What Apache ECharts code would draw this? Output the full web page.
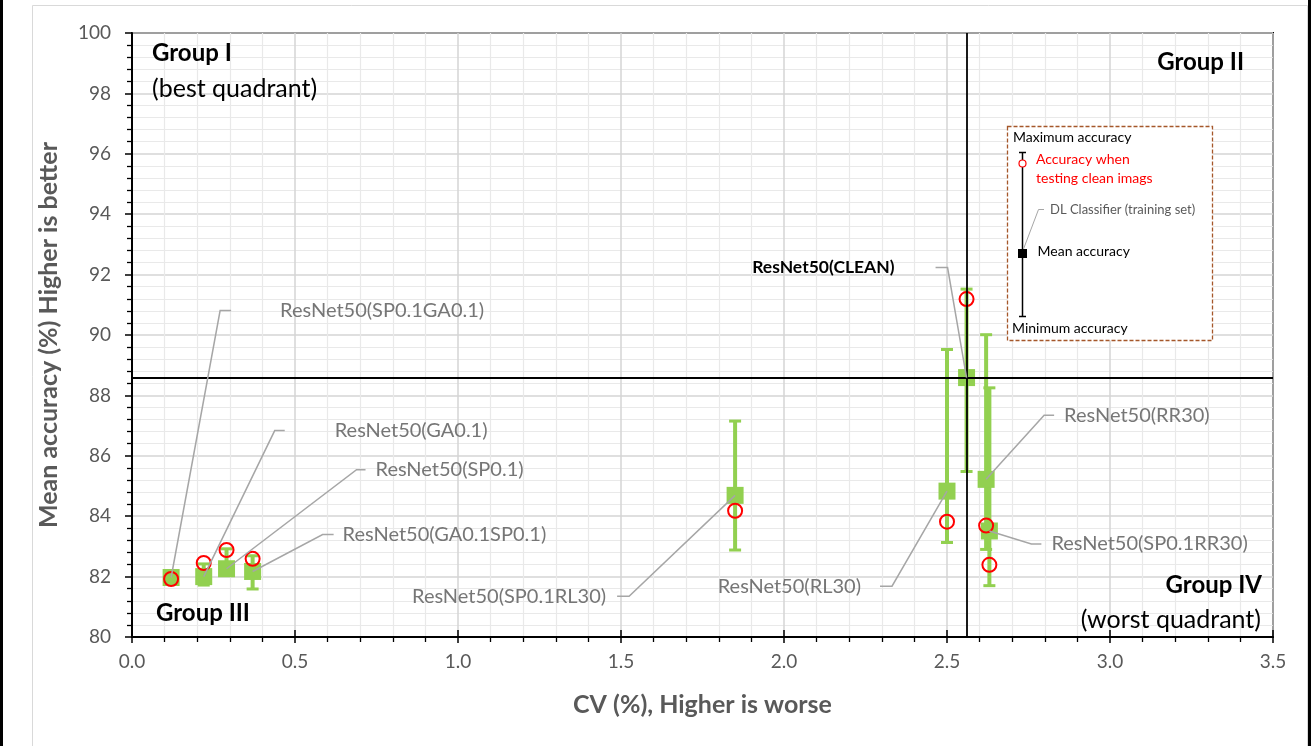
<!DOCTYPE html>
<html>
<head>
<meta charset="utf-8">
<script src="https://cdn.jsdelivr.net/npm/echarts@6/dist/echarts.min.js"></script>
<style>
html,body{margin:0;padding:0;background:#fff;}
#chart{width:1311px;height:746px;}
</style>
</head>
<body>
<div id="chart"></div>
<script>
// ---------------- data ----------------
const models = ['ResNet50(SP0.1GA0.1)', 'ResNet50(GA0.1)', 'ResNet50(SP0.1)', 'ResNet50(GA0.1SP0.1)',
  'ResNet50(SP0.1RL30)', 'ResNet50(RL30)', 'ResNet50(CLEAN)', 'ResNet50(RR30)', 'ResNet50(SP0.1RR30)'];
const cvPercent     = [0.12, 0.22, 0.29, 0.37, 1.85, 2.50, 2.56, 2.62, 2.63];
const meanAccuracy  = [81.97, 82.00, 82.26, 82.17, 84.69, 84.83, 88.59, 85.22, 83.51];
const maxAccuracy   = [82.15, 82.42, 82.92, 82.69, 87.15, 89.52, 91.52, 90.01, 88.25];
const minAccuracy   = [81.80, 81.72, 82.05, 81.59, 82.88, 83.13, 85.48, 82.90, 81.70];
const cleanAccuracy = [81.92, 82.45, 82.88, 82.59, 84.18, 83.82, 91.19, 83.69, 82.39];
const xTickValues = [0, 0.5, 1.0, 1.5, 2.0, 2.5, 3.0, 3.5];
const yTickValues = [80, 82, 84, 86, 88, 90, 92, 94, 96, 98, 100];
const groupTexts = ['Group I', '(best quadrant)', 'Group II', 'Group III', 'Group IV', '(worst quadrant)'];
const legendTexts = ['Maximum accuracy', 'Accuracy when', 'testing clean imags', 'DL Classifier (training set)', 'Mean accuracy', 'Minimum accuracy'];
const xAxisTitle = 'CV (%), Higher is worse';
const yAxisTitle = 'Mean accuracy (%) Higher is better';

// ---------------- layout (pixel offsets of data labels from their points) ----------------
const labelLayout = [
  {dx: 49,  dy: -267, seg: 11,  gap: 49},
  {dx: 71,  dy: -146, seg: 10,  gap: 50},
  {dx: 130, dy: -99,  seg: 9,   gap: 10},
  {dx: 70,  dy: -37,  seg: 11,  gap: 9},
  {dx: -106,dy: 101,  seg: -12, gap: 11},
  {dx: -55, dy: 95,   seg: -12, gap: 19},
  {dx: -19, dy: -110, seg: -12, gap: 41, bold: true},
  {dx: 58,  dy: -64,  seg: 10,  gap: 10},
  {dx: 42,  dy: 13,   seg: 10,  gap: 10}
];

const FONT = 'Lato, "Liberation Sans", sans-serif';
const GREEN = '#92D050';
const AXIS_GRAY = '#595959';

const chart = echarts.init(document.getElementById('chart'));

const baseX = {
  type: 'value', min: 0, max: 3.5, interval: 0.5, gridIndex: 0
};
const baseY = {
  type: 'value', min: 80, max: 100, interval: 2, gridIndex: 0
};

const option = {
  animation: false,
  backgroundColor: '#ffffff',
  grid: {
    left: 132, right: 38, top: 33, bottom: 109,
    show: true, borderColor: '#000', borderWidth: 2, backgroundColor: 'transparent'
  },
  xAxis: [
    Object.assign({}, baseX, {
      position: 'bottom',
      name: xAxisTitle, nameLocation: 'middle', nameGap: 55,
      nameTextStyle: {fontFamily: FONT, fontSize: 25, fontWeight: 'bold', color: AXIS_GRAY},
      axisLine: {show: true, onZero: false, lineStyle: {color: '#000', width: 2}},
      axisTick: {show: true, inside: false, length: 6, lineStyle: {color: '#000', width: 1.5}},
      minorTick: {show: true, splitNumber: 5, length: 5, lineStyle: {color: '#000', width: 1.3}},
      axisLabel: {
        margin: 15, fontFamily: FONT, fontSize: 19, color: AXIS_GRAY,
        formatter: v => xTickValues.includes(+v.toFixed(1)) ? v.toFixed(1) : ''
      },
      splitLine: {show: true, lineStyle: {color: '#d4d4d4', width: 1.5}},
      minorSplitLine: {show: true, lineStyle: {color: '#e9e9e9', width: 1.2}}
    }),
    Object.assign({}, baseX, {
      position: 'bottom', offset: 0,
      axisLine: {show: false},
      axisTick: {show: true, inside: true, length: 7, lineStyle: {color: '#000', width: 1.5}},
      axisLabel: {show: false},
      splitLine: {show: false}
    })
  ],
  yAxis: [
    Object.assign({}, baseY, {
      position: 'left',
      name: yAxisTitle, nameLocation: 'middle', nameGap: 71,
      nameTextStyle: {fontFamily: FONT, fontSize: 25, fontWeight: 'bold', color: AXIS_GRAY},
      axisLine: {show: true, onZero: false, lineStyle: {color: '#000', width: 2}},
      axisTick: {show: true, inside: false, length: 7, lineStyle: {color: '#000', width: 1.5}},
      minorTick: {show: true, splitNumber: 5, length: 5, lineStyle: {color: '#000', width: 1.3}},
      axisLabel: {
        margin: 21, fontFamily: FONT, fontSize: 19, color: AXIS_GRAY,
        formatter: v => yTickValues.includes(Math.round(v)) ? String(Math.round(v)) : ''
      },
      splitLine: {show: true, lineStyle: {color: '#d4d4d4', width: 1.5}},
      minorSplitLine: {show: true, lineStyle: {color: '#e9e9e9', width: 1.2}}
    })
  ],
  series: [
    {
      type: 'custom',
      name: 'range',
      z: 2,
      data: cvPercent.map((x, i) => [x, minAccuracy[i], maxAccuracy[i]]),
      encode: {x: 0, y: [1, 2]},
      renderItem(params, api) {
        const lo = api.coord([api.value(0), api.value(1)]);
        const hi = api.coord([api.value(0), api.value(2)]);
        const cw = 6;
        return {
          type: 'group',
          children: [
            {type: 'line', shape: {x1: lo[0], y1: lo[1], x2: hi[0], y2: hi[1]}, style: {stroke: GREEN, lineWidth: 4}},
            {type: 'line', shape: {x1: hi[0] - cw, y1: hi[1], x2: hi[0] + cw, y2: hi[1]}, style: {stroke: GREEN, lineWidth: 3}},
            {type: 'line', shape: {x1: lo[0] - cw, y1: lo[1], x2: lo[0] + cw, y2: lo[1]}, style: {stroke: GREEN, lineWidth: 3}}
          ]
        };
      }
    },
    {
      type: 'scatter',
      name: 'mean',
      z: 3,
      symbol: 'rect',
      symbolSize: 17,
      itemStyle: {color: GREEN, opacity: 1},
      data: cvPercent.map((x, i) => [x, meanAccuracy[i]]),
      markLine: {
        silent: true,
        symbol: 'none',
        label: {show: false},
        lineStyle: {color: '#000', width: 1.8, type: 'solid'},
        data: [
          {xAxis: cvPercent[6]},
          {yAxis: meanAccuracy[6]}
        ]
      }
    },
    {
      type: 'scatter',
      name: 'clean',
      z: 4,
      symbol: 'circle',
      symbolSize: 14,
      itemStyle: {color: 'rgba(255,255,255,0)', borderColor: '#FF0000', borderWidth: 2, opacity: 1},
      data: cvPercent.map((x, i) => [x, cleanAccuracy[i]])
    },
    {
      type: 'custom',
      name: 'labels',
      z: 5,
      data: cvPercent.map((x, i) => [x, meanAccuracy[i], i]),
      encode: {x: 0, y: 1},
      renderItem(params, api) {
        const i = api.value(2);
        const L = labelLayout[i];
        const p = api.coord([api.value(0), api.value(1)]);
        const ex = p[0] + L.dx, ey = p[1] + L.dy;
        const sx = ex + L.seg;
        const right = L.seg > 0;
        const tx = right ? sx + L.gap : sx - L.gap;
        return {
          type: 'group',
          children: [
            {type: 'polyline', shape: {points: [[p[0], p[1]], [ex, ey], [sx, ey]]},
             style: {stroke: '#a6a6a6', lineWidth: 1.5, fill: null}},
            {type: 'text', x: tx, y: ey,
             style: {text: models[i], fontFamily: FONT, fontSize: L.bold ? 17.5 : 20,
                     fontWeight: L.bold ? 'bold' : 'normal',
                     fill: L.bold ? '#000' : '#767676',
                     align: right ? 'left' : 'right', verticalAlign: 'middle'}}
          ]
        };
      }
    }
  ],
  graphic: [
    // figure frame
    {type: 'rect', z: -10, shape: {x: 32.5, y: 5.5, width: 1275, height: 760}, style: {fill: null, stroke: '#d9d9d9', lineWidth: 1}},
    {type: 'line', z: 10, shape: {x1: 1.5, y1: 0, x2: 1.5, y2: 746}, style: {stroke: '#000', lineWidth: 3}},
    {type: 'line', z: 10, shape: {x1: 1309.5, y1: 0, x2: 1309.5, y2: 746}, style: {stroke: '#000', lineWidth: 3}},
    // group labels
    {type: 'text', z: 20, x: 152, y: 53, style: {text: groupTexts[0], fontFamily: FONT, fontSize: 24, fontWeight: 'bold', fill: '#000', verticalAlign: 'middle'}},
    {type: 'text', z: 20, x: 152, y: 89, style: {text: groupTexts[1], fontFamily: FONT, fontSize: 25, fill: '#000', verticalAlign: 'middle'}},
    {type: 'text', z: 20, x: 1244, y: 62, style: {text: groupTexts[2], fontFamily: FONT, fontSize: 24, fontWeight: 'bold', fill: '#000', align: 'right', verticalAlign: 'middle'}},
    {type: 'text', z: 20, x: 156, y: 613, style: {text: groupTexts[3], fontFamily: FONT, fontSize: 24, fontWeight: 'bold', fill: '#000', verticalAlign: 'middle'}},
    {type: 'text', z: 20, x: 1262, y: 585, style: {text: groupTexts[4], fontFamily: FONT, fontSize: 24, fontWeight: 'bold', fill: '#000', align: 'right', verticalAlign: 'middle'}},
    {type: 'text', z: 20, x: 1261, y: 620, style: {text: groupTexts[5], fontFamily: FONT, fontSize: 25, fill: '#000', align: 'right', verticalAlign: 'middle'}},
    // inset legend
    {type: 'rect', z: 20, shape: {x: 1007.5, y: 126.5, width: 205, height: 214},
     style: {fill: '#fff', stroke: '#A5572A', lineWidth: 1.3, lineDash: [4, 2]}},
    {type: 'text', z: 21, x: 1013, y: 137, style: {text: legendTexts[0], fontFamily: FONT, fontSize: 14, fill: '#000', verticalAlign: 'middle'}},
    {type: 'line', z: 21, shape: {x1: 1022.5, y1: 152.5, x2: 1022.5, y2: 316.5}, style: {stroke: '#000', lineWidth: 1.5}},
    {type: 'line', z: 21, shape: {x1: 1019, y1: 152.5, x2: 1026, y2: 152.5}, style: {stroke: '#000', lineWidth: 1.5}},
    {type: 'line', z: 21, shape: {x1: 1019, y1: 316.5, x2: 1026, y2: 316.5}, style: {stroke: '#000', lineWidth: 1.5}},
    {type: 'circle', z: 22, shape: {cx: 1022.5, cy: 163.5, r: 3.5}, style: {fill: '#fff', stroke: '#FF0000', lineWidth: 1.2}},
    {type: 'text', z: 21, x: 1036, y: 159.5, style: {text: legendTexts[1], fontFamily: FONT, fontSize: 14, fill: '#FF0000', verticalAlign: 'middle'}},
    {type: 'text', z: 21, x: 1036, y: 178.5, style: {text: legendTexts[2], fontFamily: FONT, fontSize: 14, fill: '#FF0000', verticalAlign: 'middle'}},
    {type: 'polyline', z: 21, shape: {points: [[1022, 253], [1038.5, 209.5], [1044, 209.5]]}, style: {stroke: '#a6a6a6', lineWidth: 1, fill: null}},
    {type: 'text', z: 21, x: 1050, y: 210, style: {text: legendTexts[3], fontFamily: FONT, fontSize: 13, fill: AXIS_GRAY, verticalAlign: 'middle'}},
    {type: 'rect', z: 22, shape: {x: 1018, y: 249, width: 9, height: 9}, style: {fill: '#000'}},
    {type: 'text', z: 21, x: 1037.5, y: 251, style: {text: legendTexts[4], fontFamily: FONT, fontSize: 14, fill: '#000', verticalAlign: 'middle'}},
    {type: 'text', z: 21, x: 1012, y: 328.5, style: {text: legendTexts[5], fontFamily: FONT, fontSize: 14, fill: '#000', verticalAlign: 'middle'}}
  ]
};

chart.setOption(option);
</script>
</body>
</html>
